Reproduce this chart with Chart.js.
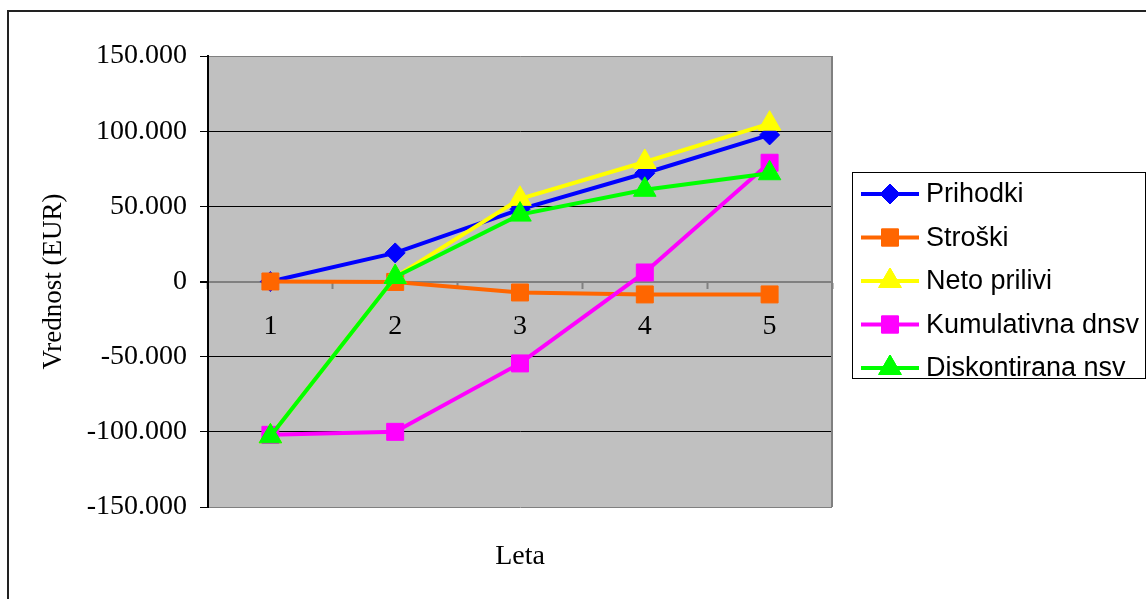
<!DOCTYPE html>
<html>
<head>
<meta charset="utf-8">
<script src="https://cdn.jsdelivr.net/npm/chart.js@4.4.0/dist/chart.umd.min.js"></script>
<style>
  html, body { margin: 0; padding: 0; background: #fff; }
  #wrap { position: relative; width: 1146px; height: 599px; }
</style>
</head>
<body>
<div id="wrap"><canvas id="myChart"></canvas></div>
<script>
// years
const labels = ['1', '2', '3', '4', '5'];

// values (EUR)
const prihodki = [0, 19000, 48000, 72000, 97500];
const stroski = [0, -300, -7300, -8600, -8600];
const netoPrilivi = [-103000, 3000, 55000, 79500, 105000];
const kumulativnaDnsv = [-102000, -100000, -54500, 6000, 79000];
const diskontiranaNsv = [-103000, 3000, 44500, 61000, 72000];

const yTicks = [-150000, -100000, -50000, 0, 50000, 100000, 150000];

const serif = 'Liberation Serif, Times New Roman, serif';
const sans = 'Liberation Sans, Arial, sans-serif';

function fmt(v) {
  const s = Math.abs(v).toString().replace(/\B(?=(\d{3})+(?!\d))/g, '.');
  return (v < 0 ? '-' : '') + s;
}

const series = [
  { label: 'Prihodki', data: prihodki, color: '#0000ff', style: 'rectRot', r: 10 },
  { label: 'Stroški', data: stroski, color: '#ff6600', style: 'rect', r: 12 },
  { label: 'Neto prilivi', data: netoPrilivi, color: '#ffff00', style: 'triangle', r: 13 },
  { label: 'Kumulativna dnsv', data: kumulativnaDnsv, color: '#ff00ff', style: 'rect', r: 12 },
  { label: 'Diskontirana nsv', data: diskontiranaNsv, color: '#00ff00', style: 'triangle', r: 13 }
];

function drawMarker(ctx, s, x, y) {
  if (Chart.helpers && Chart.helpers.drawPoint) {
    Chart.helpers.drawPoint(ctx, { pointStyle: s.style, radius: s.r, rotation: 0, borderWidth: 1 }, x, y);
    ctx.fill();
    ctx.stroke();
  }
}

const frame = {
  id: 'frame',
  beforeDraw(chart) {
    const { ctx, chartArea: a } = chart;
    ctx.save();
    ctx.fillStyle = '#fff';
    ctx.fillRect(0, 0, chart.width, chart.height);
    ctx.strokeStyle = '#222';
    ctx.lineWidth = 2;
    ctx.strokeRect(8, 11, chart.width + 20, chart.height + 20);
    ctx.fillStyle = '#c0c0c0';
    ctx.fillRect(a.left, a.top, a.right - a.left, a.bottom - a.top);
    ctx.restore();
  },
  beforeDatasetsDraw(chart) {
    const { ctx, chartArea: a } = chart;
    ctx.save();
    ctx.strokeStyle = '#808080';
    ctx.lineWidth = 2;
    ctx.beginPath();
    ctx.moveTo(a.right, a.top);
    ctx.lineTo(a.right, a.bottom);
    ctx.stroke();
    ctx.restore();
  },
  afterDraw(chart) {
    const ctx = chart.ctx;
    ctx.save();
    // x title
    ctx.fillStyle = '#000';
    ctx.font = '28px ' + serif;
    ctx.textAlign = 'center';
    ctx.textBaseline = 'middle';
    ctx.fillText('Leta', 520, 557);

    // legend
    ctx.strokeStyle = '#000';
    ctx.lineWidth = 1;
    ctx.strokeRect(852.5, 172.5, 293, 206);
    ctx.font = '27px ' + sans;
    ctx.textAlign = 'left';
    series.forEach((s, i) => {
      const y = 194 + i * 43.5;
      ctx.strokeStyle = s.color;
      ctx.lineWidth = 4;
      ctx.beginPath();
      ctx.moveTo(861, y);
      ctx.lineTo(919, y);
      ctx.stroke();
      ctx.fillStyle = s.color;
      ctx.lineWidth = 1;
      drawMarker(ctx, s, 890, y);
      ctx.fillStyle = '#000';
      ctx.fillText(s.label, 926, y + 1);
    });
    ctx.restore();
  }
};

const ctx = document.getElementById('myChart').getContext('2d');
new Chart(ctx, {
  type: 'line',
  data: {
    labels: labels,
    datasets: series.map((s, i) => ({
      label: s.label,
      data: s.data,
      borderColor: s.color,
      backgroundColor: s.color,
      borderWidth: 4,
      tension: 0,
      fill: false,
      pointStyle: s.style,
      pointRadius: s.r,
      pointHoverRadius: s.r,
      pointBorderWidth: 1,
      pointBorderColor: s.color,
      pointBackgroundColor: s.color,
      order: series.length - i
    }))
  },
  options: {
    responsive: true,
    maintainAspectRatio: false,
    animation: false,
    layout: { padding: { left: 0, top: 56, right: 314, bottom: 92 } },
    plugins: {
      legend: { display: false },
      tooltip: { enabled: false }
    },
    scales: {
      x: {
        position: { y: 0 },
        offset: true,
        grid: {
          offset: true,
          drawOnChartArea: false,
          drawTicks: true,
          tickLength: 6,
          tickColor: '#808080',
          tickWidth: 2
        },
        border: { display: true, color: '#808080', width: 2 },
        ticks: {
          color: '#000',
          font: { family: serif, size: 28 },
          padding: 22,
          maxRotation: 0
        }
      },
      y: {
        min: -150000,
        max: 150000,
        afterFit: (scale) => { scale.width = 208; },
        afterBuildTicks: (scale) => { scale.ticks = yTicks.map(v => ({ value: v })); },
        grid: {
          color: (c) => (c.tick && (c.tick.value === 0 || Math.abs(c.tick.value) === 150000)) ? '#808080' : '#000',
          lineWidth: (c) => (c.tick && c.tick.value === 0) ? 2 : 1,
          tickColor: '#000',
          tickLength: 8,
          drawTicks: true
        },
        border: { display: true, color: '#000', width: 2 },
        ticks: {
          color: '#000',
          font: { family: serif, size: 28 },
          padding: 13,
          callback: (v) => fmt(v)
        },
        title: {
          display: true,
          text: 'Vrednost (EUR)',
          color: '#000',
          font: { family: serif, size: 27 },
          padding: { top: 38, bottom: 0 }
        }
      }
    }
  },
  plugins: [frame]
});
</script>
</body>
</html>
